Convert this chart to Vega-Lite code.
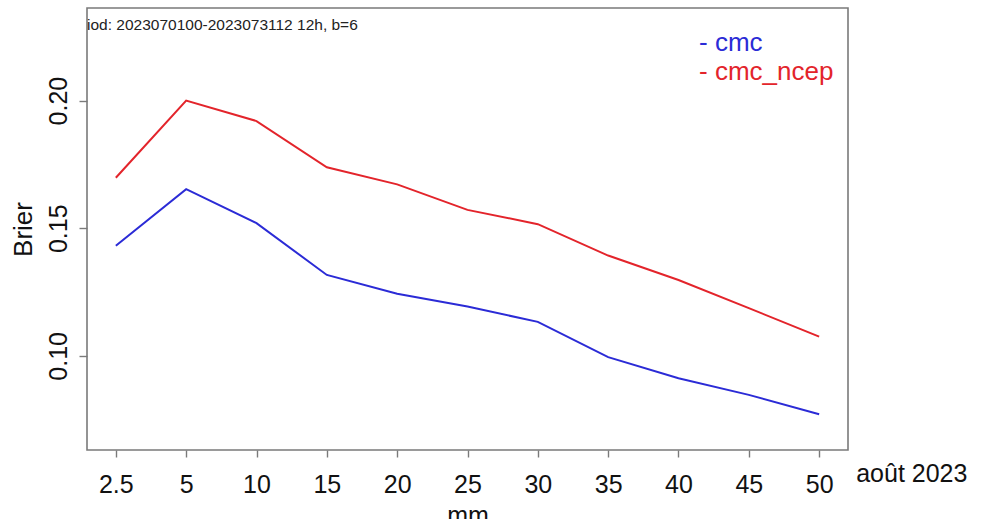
{
  "$schema": "https://vega.github.io/schema/vega-lite/v6.json",
  "autosize": {"type": "none"},
  "padding": {"left": 87, "top": 8, "right": 134, "bottom": 69},
  "width": 761,
  "height": 442,
  "background": "white",
  "title": {
    "text": "iod: 2023070100-2023073112 12h, b=6",
    "anchor": "start",
    "frame": "group",
    "orient": "top",
    "baseline": "alphabetic",
    "offset": -37,
    "font": "Liberation Sans",
    "fontSize": 15.5,
    "fontWeight": "normal",
    "color": "#222222"
  },
  "config": {
    "view": {"stroke": "#7a7a7a", "strokeWidth": 1.6},
    "font": "Liberation Sans"
  },
  "layer": [
    {
      "data": {
        "values": [
          {"series": "cmc", "mm": "2.5", "brier": 0.1431},
          {"series": "cmc", "mm": "5", "brier": 0.1653},
          {"series": "cmc", "mm": "10", "brier": 0.1520},
          {"series": "cmc", "mm": "15", "brier": 0.1317},
          {"series": "cmc", "mm": "20", "brier": 0.1243},
          {"series": "cmc", "mm": "25", "brier": 0.1193},
          {"series": "cmc", "mm": "30", "brier": 0.1133},
          {"series": "cmc", "mm": "35", "brier": 0.0995},
          {"series": "cmc", "mm": "40", "brier": 0.0912},
          {"series": "cmc", "mm": "45", "brier": 0.0847},
          {"series": "cmc", "mm": "50", "brier": 0.0771},
          {"series": "cmc_ncep", "mm": "2.5", "brier": 0.1698},
          {"series": "cmc_ncep", "mm": "5", "brier": 0.2000},
          {"series": "cmc_ncep", "mm": "10", "brier": 0.1920},
          {"series": "cmc_ncep", "mm": "15", "brier": 0.1739},
          {"series": "cmc_ncep", "mm": "20", "brier": 0.1672},
          {"series": "cmc_ncep", "mm": "25", "brier": 0.1572},
          {"series": "cmc_ncep", "mm": "30", "brier": 0.1516},
          {"series": "cmc_ncep", "mm": "35", "brier": 0.1393},
          {"series": "cmc_ncep", "mm": "40", "brier": 0.1297},
          {"series": "cmc_ncep", "mm": "45", "brier": 0.1187},
          {"series": "cmc_ncep", "mm": "50", "brier": 0.1075}
        ]
      },
      "mark": {"type": "line", "strokeWidth": 2},
      "encoding": {
        "x": {
          "field": "mm",
          "type": "ordinal",
          "sort": ["2.5", "5", "10", "15", "20", "25", "30", "35", "40", "45", "50"],
          "scale": {"type": "point", "padding": 0.41},
          "axis": {
            "title": "mm",
            "domain": false,
            "grid": false,
            "labelAngle": 0,
            "tickSize": 7,
            "tickColor": "#7a7a7a",
            "tickWidth": 1.4,
            "labelPadding": 15,
            "labelFontSize": 25,
            "labelColor": "#111111",
            "titleFontSize": 25,
            "titleFontWeight": "normal",
            "titleColor": "#111111",
            "titlePadding": 6
          }
        },
        "y": {
          "field": "brier",
          "type": "quantitative",
          "scale": {"domain": [0.0631, 0.2363], "nice": false, "zero": false},
          "axis": {
            "title": "Brier",
            "values": [0.10, 0.15, 0.20],
            "format": ".2f",
            "domain": false,
            "grid": false,
            "labelAngle": -90,
            "labelAlign": "center",
            "labelBaseline": "bottom",
            "tickSize": 8,
            "tickColor": "#7a7a7a",
            "tickWidth": 1.4,
            "labelPadding": 8,
            "labelFontSize": 25,
            "labelColor": "#111111",
            "titleFontSize": 26,
            "titleFontWeight": "normal",
            "titleColor": "#111111",
            "titlePadding": 10
          }
        },
        "color": {
          "field": "series",
          "type": "nominal",
          "scale": {"domain": ["cmc", "cmc_ncep"], "range": ["#2b2bd6", "#e3242b"]},
          "legend": {
            "title": null,
            "orient": "none",
            "legendX": 586,
            "legendY": 22,
            "padding": 0,
            "symbolSize": 0,
            "symbolStrokeWidth": 0,
            "symbolOpacity": 0,
            "labelOffset": 0,
            "labelFontSize": 26,
            "rowPadding": 3,
            "labelExpr": "'- ' + datum.label",
            "encode": {
              "labels": {
                "update": {
                  "fill": {"signal": "datum.value === 'cmc' ? '#2b2bd6' : '#e3242b'"}
                }
              }
            }
          }
        }
      }
    },
    {
      "data": {"values": [{"note": "août 2023"}]},
      "mark": {
        "type": "text",
        "align": "left",
        "baseline": "middle",
        "dx": 37,
        "fontSize": 25,
        "color": "#111111"
      },
      "encoding": {
        "text": {"field": "note"},
        "x": {"datum": "50"},
        "y": {"datum": 0.0535}
      }
    }
  ]
}
